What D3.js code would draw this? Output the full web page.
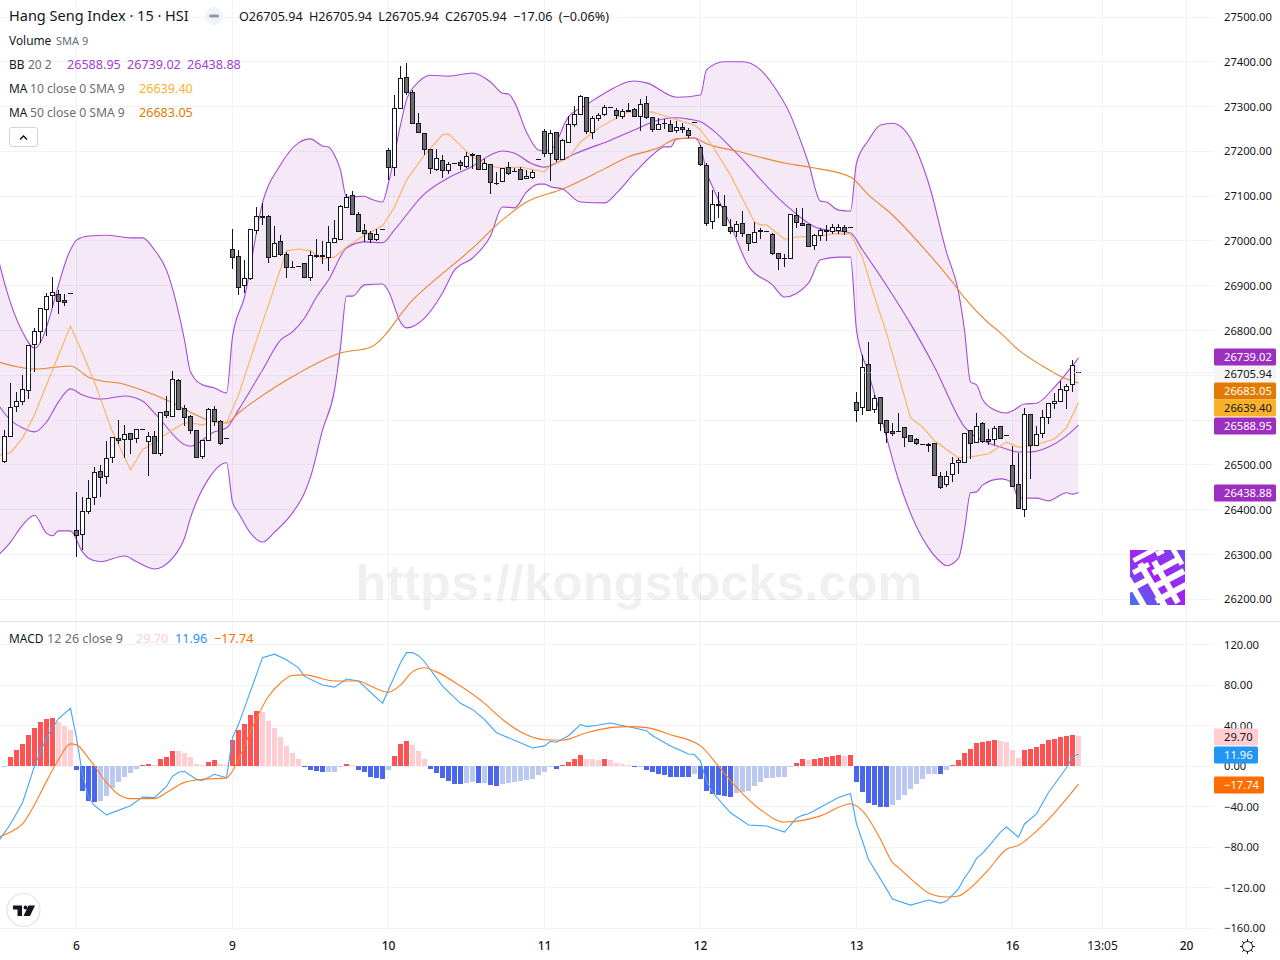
<!DOCTYPE html>
<html><head><meta charset="utf-8">
<script src="https://cdnjs.cloudflare.com/ajax/libs/d3/7.8.5/d3.min.js"></script>
<style>html,body{margin:0;padding:0;background:#fff;overflow:hidden}svg{display:block}text{font-family:"Noto Sans",sans-serif}</style>
</head><body><div id="c"></div>
<script>
// open, high, low, close per 15-minute bar
const candles=[
[26508,26578,26504,26563],[26563,26682,26563,26629],[26630,26662,26618,26641],[26641,26702,26633,26669],[26667,26766,26647,26766],[26769,26805,26708,26798],[26798,26850,26773,26850],[26847,26883,26787,26877],[26879,26919,26850,26885],[26881,26891,26838,26865],[26868,26882,26855,26862],[26883,26883,26883,26883],
[26354,26439,26295,26342],[26345,26429,26310,26397],[26396,26467,26391,26426],[26427,26495,26411,26484],[26486,26500,26429,26473],[26474,26554,26458,26515],[26517,26562,26505,26562],[26560,26601,26547,26555],[26557,26589,26516,26569],[26571,26571,26525,26557],[26560,26580,26549,26580],[26580,26580,26580,26580],[26552,26574,26476,26564],[26564,26577,26526,26526],[26525,26619,26521,26618],[26620,26654,26606,26610],[26609,26709,26609,26691],[26689,26691,26623,26624],[26626,26633,26588,26606],[26609,26611,26570,26577],[26577,26577,26517,26517],[26519,26555,26514,26555],[26555,26627,26555,26624],[26624,26632,26588,26598],[26598,26600,26545,26548],[26560,26560,26560,26560],
[26981,27026,26937,26964],[26966,26979,26879,26897],[26901,26958,26883,26917],[26917,27026,26914,27026],[27023,27075,27016,27055],[27055,27084,27036,27053],[27055,27059,26952,26964],[26965,27033,26964,26995],[26999,27013,26967,26970],[26970,26976,26918,26940],[26941,26955,26941,26941],[26943,26943,26943,26943],[26950,26950,26919,26919],[26919,26978,26911,26968],[26967,27004,26963,26965],[26967,27001,26949,26965],[26964,27033,26932,26997],[26997,27047,26997,27006],[27004,27080,27004,27076],[27075,27106,27073,27097],[27102,27112,27057,27060],[27060,27064,27022,27022],[27024,27038,26997,27017],[27017,27022,26996,27004],[27004,27026,27001,27015],[27026,27026,27026,27026],
[27202,27207,27136,27164],[27164,27325,27146,27296],[27296,27391,27296,27363],[27365,27398,27327,27332],[27332,27336,27263,27263],[27263,27286,27243,27243],[27240,27240,27192,27205],[27205,27205,27150,27162],[27160,27205,27156,27184],[27180,27193,27141,27158],[27158,27176,27150,27171],[27173,27173,27173,27173],[27175,27180,27158,27169],[27167,27198,27164,27189],[27193,27196,27160,27191],[27191,27191,27160,27160],[27160,27184,27160,27173],[27171,27171,27106,27131],[27129,27153,27124,27129],[27133,27162,27131,27162],[27164,27176,27147,27151],[27155,27162,27153,27155],[27160,27165,27138,27138],[27140,27158,27138,27144],[27142,27158,27138,27153],[27182,27182,27182,27182],
[27245,27249,27188,27196],[27196,27247,27135,27240],[27243,27243,27176,27182],[27182,27227,27180,27225],[27220,27278,27218,27260],[27260,27301,27254,27283],[27283,27325,27283,27323],[27321,27321,27238,27245],[27243,27278,27228,27274],[27274,27285,27267,27280],[27283,27303,27280,27298],[27298,27298,27298,27298],[27292,27296,27272,27280],[27278,27294,27272,27290],[27292,27307,27287,27290],[27294,27296,27278,27278],[27278,27318,27245,27305],[27307,27323,27272,27276],[27276,27276,27243,27249],[27249,27274,27249,27260],[27263,27272,27249,27263],[27260,27269,27243,27245],[27247,27267,27240,27254],[27254,27263,27240,27249],[27247,27252,27229,27236],[27265,27265,27265,27265],
[27209,27214,27167,27171],[27169,27173,27033,27039],[27044,27113,27026,27082],[27082,27109,27051,27079],[27077,27102,27035,27035],[27031,27048,27015,27022],[27022,27044,27008,27037],[27040,27068,27008,27017],[27015,27015,26978,26995],[26997,27042,26997,27019],[27024,27028,27004,27022],[27022,27022,27022,27022],[27015,27017,26968,26972],[26972,26972,26935,26961],[26961,26972,26941,26961],[26961,27060,26961,27060],[27057,27073,27028,27042],[27040,27073,27033,27035],[27037,27037,26988,26988],[26990,27015,26981,27013],[27013,27028,26999,27024],[27022,27035,26999,27024],[27022,27037,27015,27031],[27024,27037,27015,27031],[27031,27035,27013,27022],[27031,27031,27031,27031],
[26640,26662,26595,26622],[26629,26745,26611,26718],[26725,26774,26622,26622],[26624,26656,26615,26649],[26651,26651,26577,26593],[26600,26600,26548,26573],[26575,26593,26564,26571],[26575,26615,26575,26575],[26584,26584,26540,26562],[26566,26566,26551,26553],[26557,26560,26544,26548],[26546,26546,26546,26546],[26546,26548,26528,26544],[26548,26548,26477,26477],[26475,26484,26446,26450],[26457,26486,26452,26475],[26479,26517,26463,26503],[26506,26515,26479,26510],[26506,26571,26506,26571],[26577,26577,26513,26548],[26551,26615,26551,26586],[26593,26597,26548,26553],[26557,26580,26544,26553],[26557,26586,26544,26582],[26586,26588,26557,26560],[26566,26566,26566,26566],
[26499,26542,26452,26452],[26457,26526,26403,26403],[26401,26627,26383,26613],[26613,26613,26468,26544],[26544,26586,26544,26568],[26571,26622,26560,26606],[26606,26638,26592,26638],[26638,26660,26624,26642],[26642,26687,26642,26669],[26667,26680,26624,26676],[26680,26734,26664,26722],[26705.94,26705.94,26705.94,26705.94]];
// bar index, value pairs
const bbUpper=[[-1,26958],[0,26906],[3,26797],[5,26761],[11,26980],[12,27002],[14,27011],[17,27013],[21,27007],[23,27007],[25,26980],[27,26935],[30,26779],[31,26708],[33,26679],[35,26672],[37,26661],[38,26786],[40,26875],[43,27085],[46,27170],[49,27219],[51,27228],[53,27212],[54,27210],[55,27192],[56,27158],[57,27098],[60,27100],[61,27094],[63,27087],[64,27130],[66,27259],[67,27315],[69,27355],[71,27370],[74,27368],[78,27375],[81,27355],[83,27330],[84,27328],[85,27310],[87,27243],[89,27203],[90,27201],[91,27203],[94,27277],[97,27304],[100,27330],[105,27357],[107,27353],[112,27321],[116,27326],[117,27382],[120,27400],[123,27400],[126,27382],[128,27350],[131,27281],[132,27248],[134,27174],[136,27089],[137,27087],[139,27069],[141,27067],[142,27174],[144,27225],[146,27259],[148,27263],[150,27248],[154,27130],[157,26975],[159,26886],[160,26801],[161,26685],[162,26679],[163,26647],[165,26623],[167,26616],[168,26621],[170,26636],[172,26638],[175,26674],[179,26739.02]];
const bbLower=[[-1,26299],[1,26328],[3,26366],[5,26388],[7,26348],[8,26342],[9,26353],[11,26353],[13,26306],[14,26292],[16,26284],[20,26297],[22,26284],[25,26268],[28,26292],[30,26337],[31,26382],[34,26469],[37,26505],[38,26417],[39,26393],[41,26348],[43,26328],[45,26350],[48,26393],[50,26438],[51,26473],[53,26578],[55,26667],[56,26763],[57,26877],[58,26877],[60,26902],[63,26904],[64,26888],[66,26819],[67,26806],[70,26828],[73,26884],[75,26935],[78,26962],[81,27011],[83,27076],[85,27074],[87,27109],[89,27127],[90,27127],[91,27121],[93,27116],[96,27087],[100,27085],[102,27107],[105,27152],[108,27192],[110,27210],[111,27210],[112,27228],[115,27230],[116,27212],[117,27154],[118,27121],[121,27036],[124,26944],[128,26902],[130,26875],[134,26906],[136,26958],[139,26964],[141,26964],[142,26801],[144,26705],[146,26612],[149,26467],[152,26362],[154,26315],[156,26284],[157,26275],[159,26292],[160,26355],[161,26438],[162,26440],[163,26455],[166,26469],[167,26467],[168,26458],[169,26426],[172,26426],[174,26420],[177,26438],[178,26435],[179,26438.88]];
const bbBasis=[[-1,26634],[1,26600],[3,26583],[5,26574],[7,26596],[9,26641],[11,26670],[13,26656],[16,26647],[20,26654],[23,26643],[25,26616],[31,26542],[35,26574],[37,26583],[39,26623],[43,26712],[46,26779],[48,26797],[50,26828],[52,26875],[54,26913],[57,26984],[60,26998],[63,26996],[65,27025],[70,27105],[74,27141],[78,27167],[81,27192],[83,27201],[85,27196],[88,27172],[90,27165],[93,27181],[95,27194],[101,27225],[106,27254],[109,27270],[112,27275],[114,27272],[116,27266],[118,27248],[122,27196],[130,27083],[136,27027],[141,27018],[143,26980],[148,26880],[151,26815],[155,26719],[160,26585],[164,26549],[166,26540],[169,26529],[171,26529],[174,26540],[177,26565],[179,26588.95]];
const ma10=[[-1,26522],[1,26527],[3,26560],[5,26612],[8,26712],[11,26810],[13,26750],[15,26685],[18,26574],[21,26489],[23,26534],[25,26551],[28,26578],[30,26594],[32,26592],[33,26589],[35,26600],[37,26594],[39,26656],[43,26819],[44,26857],[47,26978],[49,26982],[51,26978],[53,26960],[55,26964],[57,26987],[60,27013],[63,27034],[65,27076],[67,27136],[70,27192],[73,27237],[74,27239],[78,27188],[81,27167],[83,27163],[86,27165],[90,27154],[91,27170],[94,27185],[96,27221],[99,27252],[102,27275],[104,27288],[108,27288],[111,27275],[114,27263],[115,27259],[116,27248],[118,27212],[121,27147],[125,27042],[126,27036],[127,27036],[130,27004],[132,27009],[136,27011],[138,27016],[141,27016],[143,26964],[145,26875],[147,26795],[151,26605],[153,26585],[155,26554],[159,26516],[161,26518],[164,26525],[167,26551],[169,26540],[171,26542],[175,26558],[177,26583],[179,26639.40]];
const ma50=[[-1,26730],[3,26717],[5,26714],[11,26721],[14,26696],[16,26688],[19,26683],[23,26667],[27,26645],[31,26618],[35,26596],[37,26594],[39,26616],[49,26705],[56,26750],[61,26763],[68,26868],[78,26984],[83,27047],[87,27087],[93,27116],[100,27161],[104,27188],[109,27208],[112,27228],[115,27230],[117,27217],[122,27201],[130,27174],[134,27165],[141,27143],[144,27103],[148,27058],[153,26987],[158,26908],[160,26873],[164,26817],[166,26795],[169,26757],[173,26721],[177,26692],[179,26683.05]];
const macdLine=[[-1,-74],[1,-57],[3,-36],[5,0],[7,28],[9,47],[11,57],[12,28],[13,-8],[14,-31],[15,-39],[17,-48],[21,-39],[23,-30.5],[25,-31],[27,-20],[28,-10],[29,-6],[30,-5],[32,-13],[33,-14],[35,-8],[37,-11.5],[38,28],[39,41],[41,74],[43,107],[45,110.5],[47,105],[49,97],[50,88.5],[53,80],[55,78],[57,86],[59,84],[63,62],[66,102],[67,112],[68,112],[69,109],[70,103],[73,79],[76,62],[78,56],[80,46],[82,33],[85,25.6],[88,18],[90,20],[91,24.6],[92,23.6],[94,30],[96,41],[97,39],[98,39.7],[101,42.6],[105,37.7],[107,35],[108,30],[111,20],[114,12],[115,11.5],[116,5],[117,-15],[118,-26],[121,-46],[124,-58],[127,-59],[130,-65],[132,-51],[133,-48.5],[134,-47],[139,-31],[141,-27],[142,-57],[143,-74],[144,-92],[147,-121],[148,-131],[151,-137],[154,-132],[156,-135],[157,-133],[159,-121],[160,-110],[161,-102],[162,-91],[163,-86],[164,-79],[166,-65],[167,-60],[169,-70],[170,-57],[172,-47],[174,-26],[177,-1.6],[178,9],[179,11.96]];
const macdSignal=[[-1,-70],[1,-65],[3,-57],[5,-38],[7,-15],[9,6.6],[11,22],[12,21],[14,8],[17,-16],[19,-28],[21,-32],[25,-32],[27,-26],[30,-16],[33,-13],[37,-11.5],[39,6.5],[41,34],[44,69],[46,82],[48,89.5],[50,90],[55,84],[59,84],[61,79],[64,73],[66,80],[68,93],[70,97],[72,93],[76,79],[80,62],[83,46],[87,31],[90,26],[93,25.6],[97,33],[101,38],[104,39],[107,38],[111,31],[116,20],[119,0],[122,-21],[126,-43],[130,-55],[133,-53.5],[136,-49],[141,-37],[143,-44],[146,-72],[148,-95],[149,-100],[152,-116],[154,-125],[157,-129],[159,-128],[161,-120],[164,-102],[167,-82],[169,-78],[172,-64],[175,-46],[179,-17.74]];
const macdHist=[-0.5,9.5,16.4,22.3,31.2,38,44,46.9,47.9,44,40,36,-3.9,-24.6,-34.4,-35.4,-34.4,-29.5,-21.6,-15.7,-10.8,-6.9,-2.3,1.6,2.6,1.6,6.6,9.5,15.4,15.2,13.4,9.5,2.6,1.6,4.6,5.6,2.6,1.6,26.2,36,42,50.8,54.8,53.8,44.9,38,29.2,20.3,12.5,6.6,-1.3,-3.3,-5.2,-6.2,-6.1,-6,-1.3,2.6,1.6,-3.3,-6.2,-10.2,-12.1,-12.2,-3.3,10.5,22.3,25.3,21.3,15.4,7.5,-2.3,-7.2,-12.1,-15.1,-17.1,-18,-17,-16.1,-17,-16.9,-19,-20,-18,-17,-16,-15,-14,-13,-9.2,-6.2,-1.3,-2.3,0.7,4.6,7.5,11.5,7.5,6.6,6.5,6.7,5.6,3.6,2.6,1.6,-1.3,-1.2,-3.3,-6.2,-8.2,-8.3,-10.2,-10.3,-10.4,-10.5,-8.2,-13,-24,-27,-28,-29,-30,-26,-25,-24,-20,-16,-12.1,-12,-11,-10.2,-1.3,3.6,6.6,5.6,6.6,8.5,8.6,10.5,10.6,10.5,10.7,-16,-25,-36,-38,-40,-40.1,-38,-33,-28,-23,-18,-13,-8,-7.9,-8,-4,1.6,5.6,13.4,17.4,23.3,24.3,24.4,26.2,25.3,24.3,16.4,8.5,16.4,17.4,19.4,22.3,26.2,27.2,29.2,29.3,31.2,29.7];
const priceTicks=[27500,27400,27300,27200,27100,27000,26900,26800,26700,26600,26500,26400,26300,26200];
const priceTicksCovered=[26700,26600];
const macdTicks=[120,80,40,0,-40,-80,-120,-160];
const timeTickBars=[12,38,64,90,116,142,168,183,197];
const timeTickLabels=["6","9","10","11","12","13","16","13:05","20"];
const priceTagValues=[26705.94,26739.02,26683.05,26639.40,26588.95,26438.88];
const title="Hang Seng Index · 15 · HSI";
const ohlc="O26705.94 H26705.94 L26705.94 C26705.94 −17.06 (−0.06%)";

const W=1280,H=960,plotR=1214;
const svg=d3.select("#c").append("svg").attr("width",W).attr("height",H);
const x=d3.scaleLinear().domain([0,179]).range([4.5,1078.5]);
const y=d3.scaleLinear().domain([27500,26200]).range([17,599.4]);
const ym=d3.scaleLinear().domain([120,-160]).range([644.5,928.4]);
const snap=v=>Math.round(v-.5)+.5;
const grid="#f0f3fa";
const defs=svg.append("defs");
defs.append("clipPath").attr("id","cp").append("rect").attr("width",plotR).attr("height",621);
defs.append("clipPath").attr("id","cm").append("rect").attr("y",622).attr("width",plotR).attr("height",310);
defs.append("clipPath").attr("id","cl").append("rect").attr("width",55).attr("height",55);
const lg=defs.append("linearGradient").attr("id","logoG").attr("x1",0).attr("y1",1).attr("x2",1).attr("y2",0);
lg.append("stop").attr("offset","0").attr("stop-color","#3f78ee");
lg.append("stop").attr("offset","0.5").attr("stop-color","#a61ff2");
lg.append("stop").attr("offset","1").attr("stop-color","#6f4cf0");

// grid
const gg=svg.append("g").attr("stroke",grid).attr("stroke-width",1);
timeTickBars.forEach(b=>gg.append("line").attr("x1",x(b)).attr("x2",x(b)).attr("y1",0).attr("y2",932));
priceTicks.forEach(t=>gg.append("line").attr("x1",0).attr("x2",plotR).attr("y1",snap(y(t))).attr("y2",snap(y(t))));
macdTicks.forEach(t=>gg.append("line").attr("x1",0).attr("x2",plotR).attr("y1",snap(ym(t))).attr("y2",snap(ym(t))));
svg.append("line").attr("x1",0).attr("x2",W).attr("y1",621.5).attr("y2",621.5).attr("stroke","#e0e3eb");

// watermark
svg.append("text").attr("x",639).attr("y",600).attr("text-anchor","middle").attr("font-size",50.5).attr("font-weight",700)
 .style("font-family","'Liberation Sans',sans-serif").attr("fill","#000").attr("fill-opacity",.06).text("https://kongstocks.com");

// price pane
const pp=svg.append("g").attr("clip-path","url(#cp)");
const ln=d3.line().x(d=>x(d[0])).y(d=>y(d[1]));
const lnS=d3.line().x(d=>x(d[0])).y(d=>y(d[1])).curve(d3.curveMonotoneX);
const band=lnS(bbUpper)+"L"+lnS(bbLower.slice().reverse()).slice(1)+"Z";
pp.append("path").attr("d",band).attr("fill","#9c27b0").attr("fill-opacity",.1);
[[bbUpper,"#a54cd8"],[bbLower,"#a54cd8"],[bbBasis,"#a54cd8"],[ma50,"#e8862e"]].forEach(([d,c])=>
 pp.append("path").attr("d",lnS(d)).attr("fill","none").attr("stroke",c).attr("stroke-width",1.1));
pp.append("path").attr("d",ln(ma10)).attr("fill","none").attr("stroke","#f9b25a").attr("stroke-width",1.1);
const ink="#131722";
candles.forEach((c,i)=>{
 const cx=x(i);
 const [o,h,l,cl]=c;
 if(h>l) pp.append("line").attr("x1",cx).attr("x2",cx).attr("y1",Math.round(y(h))).attr("y2",Math.round(y(l))).attr("stroke",ink);
 const t=snap(y(Math.max(o,cl))),b=snap(y(Math.min(o,cl)));
 if(b-t<1){
  pp.append("line").attr("x1",cx-2.5).attr("x2",cx+2.5).attr("y1",t).attr("y2",t).attr("stroke",ink);
 } else {
  pp.append("rect").attr("x",cx-2).attr("width",4).attr("y",t).attr("height",b-t)
   .attr("fill",cl>=o?"#fff":"#6d6d6d").attr("stroke",ink);
 }
});
pp.append("line").attr("x1",x(179)).attr("x2",plotR).attr("y1",y(26705.94)).attr("y2",y(26705.94)).attr("stroke","#cfd2dc").attr("stroke-dasharray","1 2");
pp.append("line").attr("x1",0).attr("x2",x(179)).attr("y1",y(26705.94)).attr("y2",y(26705.94)).attr("stroke","#fff").attr("stroke-opacity",.7).attr("stroke-dasharray","1 2");

// logo
const lgG=svg.append("g").attr("transform","translate(1130,550)").attr("clip-path","url(#cl)");
lgG.append("rect").attr("width",55).attr("height",55).attr("fill","url(#logoG)");
const lc=lgG.append("g").attr("fill","#fff");
[[2,2,26,5,-28],[2,16,18,5,-28],[-4,32,24,6,-28],[26,0,8,5,-28],[21,13,30,6,-28],[22,26,34,6,-28],[24,40,34,6,-28],[33,8,6,48,-30],[20,10,6,52,-30],[4,26,6,36,-30],[44,-6,5,22,-30]].forEach(r=>
 lc.append("rect").attr("x",r[0]).attr("y",r[1]).attr("width",r[2]).attr("height",r[3]).attr("transform",`rotate(${r[4]} ${r[0]+r[2]/2} ${r[1]+r[3]/2})`));

// MACD pane
const mp=svg.append("g").attr("clip-path","url(#cm)");
macdHist.forEach((v,i)=>{
 const prev=i?macdHist[i-1]:-7;
 const strong=v>=0?v>prev:v<prev;
 const c=v>=0?(strong?"#ff5252":"#ffcdd2"):(strong?"#4a67ee":"#bbc8f2");
 const y0=Math.round(ym(0)),y1=Math.round(ym(v));
 mp.append("rect").attr("x",x(i)-2.5).attr("width",5).attr("y",Math.min(y0,y1)).attr("height",Math.abs(y1-y0)).attr("fill",c);
});
const lm=d3.line().x(d=>x(d[0])).y(d=>ym(d[1]));
mp.append("path").attr("d",lm(macdLine)).attr("fill","none").attr("stroke","#42a5f5").attr("stroke-width",1.1);
mp.append("path").attr("d",lm.curve(d3.curveMonotoneX)(macdSignal)).attr("fill","none").attr("stroke","#ff7d1f").attr("stroke-width",1.1);

// axis labels
const axisG=svg.append("g").attr("font-size",11.2).attr("fill",ink);
priceTicks.filter(t=>!priceTicksCovered.includes(t)).forEach(t=>axisG.append("text").attr("x",1224).attr("y",y(t)+4).text(d3.format(".2f")(t)));
macdTicks.forEach(t=>axisG.append("text").attr("x",1224).attr("y",ym(t)+4).text(d3.format(".2f")(t).replace("-","−")));
timeTickBars.forEach((b,i)=>svg.append("text").attr("x",x(b)).attr("y",950).attr("text-anchor","middle").attr("font-size",12).attr("font-weight",timeTickLabels[i]==="13:05"?400:500).attr("fill",ink).text(timeTickLabels[i]));

// tags
function tag(yc,w,bg,fg,t){
 svg.append("rect").attr("x",1214).attr("y",Math.round(yc)-8.5).attr("width",w).attr("height",17).attr("rx",1.5).attr("fill",bg);
 svg.append("text").attr("x",1224).attr("y",Math.round(yc)+4).attr("font-size",11.2).attr("fill",fg).text(t);
}
const tagStyles=[[62,"#f5f5f5",ink],[62,"#9c2fc0","#fff"],[62,"#e27a00","#fff"],[62,"#f9b12a",ink],[62,"#9c2fc0","#fff"],[62,"#9c2fc0","#fff"]];
const tagY=[373.5,356.5,390.5,407.5,425.5,492.5];
priceTagValues.forEach((v,i)=>tag(tagY[i],tagStyles[i][0],tagStyles[i][1],tagStyles[i][2],v.toFixed(2)));
tag(736.5,44,"#ffcdd2",ink,"29.70");
tag(754.5,44,"#2196f3","#fff","11.96");
tag(784.5,50,"#ff6d00","#fff","−17.74");

// legend
const gray="#6a6d78";
function leg(xp,yp,size,c,t){return svg.append("text").attr("x",xp).attr("y",yp).attr("font-size",size).attr("fill",c).text(t);}
leg(9,21,14.5,ink,title);
svg.append("circle").attr("cx",214).attr("cy",16).attr("r",9).attr("fill","#f0f3fa");
svg.append("rect").attr("x",209).attr("y",14.5).attr("width",10).attr("height",3).attr("rx",1.5).attr("fill","#9598a1");
leg(239,21,12.6,ink,ohlc).attr("word-spacing",3);
leg(9,45,11.9,ink,"Volume");leg(56,45,11,gray,"SMA 9");
leg(9,69,11.9,ink,"BB");leg(28,69,11.9,gray,"20 2");
leg(67,69,12.6,"#a13fd0","26588.95");leg(127,69,12.6,"#a13fd0","26739.02");leg(187,69,12.6,"#a13fd0","26438.88");
leg(9,93,11.9,ink,"MA");leg(30,93,12.15,gray,"10 close 0 SMA 9");leg(139,93,12.6,"#f9b12a","26639.40");
leg(9,117,11.9,ink,"MA");leg(30,117,12.15,gray,"50 close 0 SMA 9");leg(139,117,12.6,"#e27a00","26683.05");
svg.append("rect").attr("x",9.5).attr("y",127.5).attr("width",28).attr("height",19).attr("rx",2.5).attr("fill","#fff").attr("stroke","#d1d4dc");
svg.append("path").attr("d","M20 139.5l3.5-3.5 3.5 3.5").attr("fill","none").attr("stroke",ink).attr("stroke-width",1.5);
leg(9,643,11.9,ink,"MACD");leg(47,643,12.6,gray,"12 26 close 9");
leg(136,643,12.6,"#ffcdd2","29.70");leg(175,643,12.6,"#2196f3","11.96");leg(214,643,12.6,"#ff6d00","−17.74");

// tradingview badge
svg.append("circle").attr("cx",23.5).attr("cy",910).attr("r",16.5).attr("fill","#fff").attr("stroke","#e0e3eb").attr("stroke-width",1.2);
svg.append("path").attr("d","M13 905.5h9v10.5h-4.5v-6.5H13ZM28.5 905.5h6.5l-5 10.5h-6.5Z").attr("fill",ink);
svg.append("circle").attr("cx",25.5).attr("cy",907.5).attr("r",1.9).attr("fill",ink);

// settings gear
const gear=svg.append("g").attr("transform","translate(1247.5,946.5)").attr("stroke",ink).attr("fill","none");
gear.append("circle").attr("r",5);
d3.range(8).forEach(k=>{const a=k*Math.PI/4;gear.append("line").attr("x1",5*Math.cos(a)).attr("y1",5*Math.sin(a)).attr("x2",7.5*Math.cos(a)).attr("y2",7.5*Math.sin(a));});
</script></body></html>
